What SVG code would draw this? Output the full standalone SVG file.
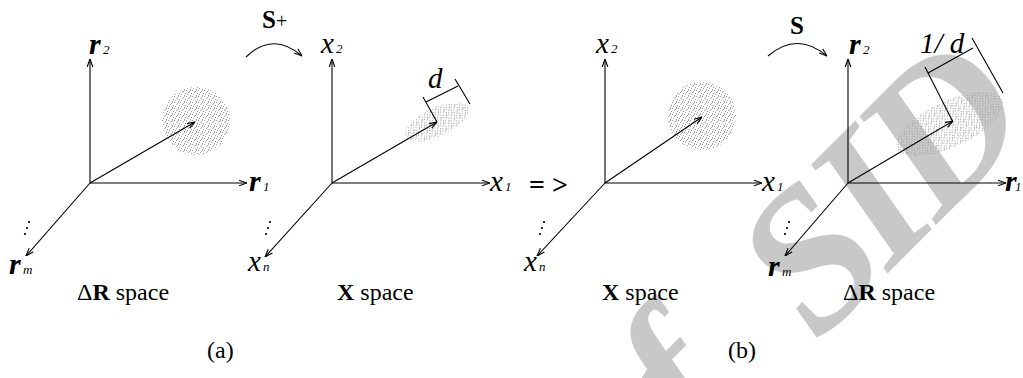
<svg xmlns="http://www.w3.org/2000/svg" width="1023" height="378" viewBox="0 0 1023 378">
<style>
text{font-family:"Liberation Serif","Times New Roman",serif}
.ax{stroke:#000;stroke-width:1.1;fill:none}
.br{stroke:#000;stroke-width:1.1;fill:none}
.lr{font-style:italic;font-weight:bold;font-size:30px;fill:#000}
.lx{font-style:italic;font-size:29px;fill:#000}
.sub{font-style:italic;font-size:13px;fill:#000}
.cap{font-size:24px;fill:#000}
.op{font-size:25px;fill:#000}
.wm{font-style:italic;font-weight:bold;font-size:200px;fill:#c8c8c8}
.dot{fill:#000}
.cloud{fill:url(#stip)}
</style>
<defs>
<marker id="ah" viewBox="0 0 10 10" refX="10" refY="5" markerWidth="8" markerHeight="8" markerUnits="userSpaceOnUse" orient="auto">
<path d="M0,1.5 L10,5 L0,8.5" fill="none" stroke="#000" stroke-width="1.4"/>
</marker>
<pattern id="stip" width="6" height="6" patternUnits="userSpaceOnUse">
<rect x="0" y="0" width="1" height="1" fill="#9a9a9a"/>
<rect x="3" y="1" width="1" height="1" fill="#a4a4a4"/>
<rect x="5" y="3" width="1" height="1" fill="#999"/>
<rect x="1" y="4" width="1" height="1" fill="#a8a8a8"/>
<rect x="4" y="5" width="1" height="1" fill="#a0a0a0"/>
<rect x="2" y="2" width="1" height="1" fill="#b4b4b4"/>
<rect x="4" y="0" width="1" height="1" fill="#b8b8b8"/>
</pattern>
</defs>

<g id="watermark" transform="translate(664 497) rotate(-45)">
<text class="wm" x="-45" y="-10" font-size="220">of</text>
<text class="wm" x="217" y="0" letter-spacing="-10">SID</text>
</g>

<g id="clouds">
<circle class="cloud" cx="196" cy="121" r="34"/>
<ellipse class="cloud" cx="437" cy="122" rx="35" ry="14" transform="rotate(-25 437 122)"/>
<circle class="cloud" cx="702" cy="116" r="34"/>
<ellipse class="cloud" cx="950" cy="124" rx="58" ry="23" transform="rotate(-25 950 124)"/>
</g>

<g id="connectors">
<line class="ax" x1="90" y1="183" x2="90" y2="59" marker-end="url(#ah)"/>
<line class="ax" x1="90" y1="183" x2="247" y2="183" marker-end="url(#ah)"/>
<line class="ax" x1="90" y1="183" x2="26" y2="256" marker-end="url(#ah)"/>
<line class="ax" x1="90" y1="183" x2="195" y2="122" marker-end="url(#ah)"/>

<line class="ax" x1="332" y1="183" x2="332" y2="59" marker-end="url(#ah)"/>
<line class="ax" x1="332" y1="183" x2="490" y2="183" marker-end="url(#ah)"/>
<line class="ax" x1="332" y1="183" x2="265" y2="257" marker-end="url(#ah)"/>
<line class="ax" x1="332" y1="183" x2="437" y2="122" marker-end="url(#ah)"/>

<line class="ax" x1="605" y1="183" x2="605" y2="59" marker-end="url(#ah)"/>
<line class="ax" x1="605" y1="183" x2="762" y2="183" marker-end="url(#ah)"/>
<line class="ax" x1="605" y1="183" x2="537" y2="256" marker-end="url(#ah)"/>
<line class="ax" x1="605" y1="183" x2="702" y2="117" marker-end="url(#ah)"/>

<line class="ax" x1="848" y1="183" x2="848" y2="59" marker-end="url(#ah)"/>
<line class="ax" x1="848" y1="183" x2="1006" y2="183" marker-end="url(#ah)"/>
<line class="ax" x1="848" y1="183" x2="785" y2="256" marker-end="url(#ah)"/>
<line class="ax" x1="848" y1="183" x2="953" y2="121" marker-end="url(#ah)"/>

<path class="ax" d="M246,57 Q273,31 302,56" marker-end="url(#ah)"/>
<path class="ax" d="M768,56 Q797,31 827,56" marker-end="url(#ah)"/>

<path class="br" d="M423,97 L437,122 M426,102 L458,86 M455,79 L470,104"/>
<path class="br" d="M925,67 L953,122 M928,73 L973,48 M972,38 L1003,93"/>
</g>

<g id="panel-a-R">
<text class="lr" x="89" y="54">r</text><text class="sub" x="103" y="54">2</text>
<text class="lr" x="249" y="191">r</text><text class="sub" x="263" y="191">1</text>
<text class="lr" x="9" y="274">r</text><text class="sub" x="23" y="274">m</text>
<circle class="dot" cx="29" cy="222" r="1.1"/><circle class="dot" cx="27" cy="228" r="1.1"/><circle class="dot" cx="25" cy="234" r="1.1"/>
<text class="cap" x="77" y="300">Δ<tspan font-weight="bold">R</tspan> space</text>
</g>

<g id="op-splus">
<text class="op" x="262" y="28"><tspan font-weight="bold">S</tspan><tspan font-size="20">+</tspan></text>
</g>

<g id="panel-a-X">
<text class="lx" x="321" y="53">x</text><text class="sub" x="336" y="53">2</text>
<text class="lx" x="490" y="191">x</text><text class="sub" x="505" y="191">1</text>
<text class="lx" x="248" y="271">x</text><text class="sub" x="263" y="271">n</text>
<circle class="dot" cx="270" cy="222" r="1.1"/><circle class="dot" cx="268" cy="228" r="1.1"/><circle class="dot" cx="266" cy="234" r="1.1"/>
<text class="lx" x="428" y="88" font-size="24">d</text>
<text class="cap" x="337" y="300"><tspan font-weight="bold">X</tspan> space</text>
</g>

<g id="implies">
<text x="529" y="194" font-family="Liberation Sans,Arial,sans-serif" font-weight="bold" font-size="28" fill="#000">= &gt;</text>
</g>

<g id="panel-b-X">
<text class="lx" x="596" y="53">x</text><text class="sub" x="611" y="53">2</text>
<text class="lx" x="762" y="191">x</text><text class="sub" x="777" y="191">1</text>
<text class="lx" x="524" y="271">x</text><text class="sub" x="539" y="271">n</text>
<circle class="dot" cx="544" cy="222" r="1.1"/><circle class="dot" cx="542" cy="228" r="1.1"/><circle class="dot" cx="540" cy="234" r="1.1"/>
<text class="cap" x="602" y="300"><tspan font-weight="bold">X</tspan> space</text>
</g>

<g id="op-s">
<text class="op" x="790" y="34" font-weight="bold">S</text>
</g>

<g id="panel-b-R">
<text class="lr" x="849" y="54">r</text><text class="sub" x="863" y="54">2</text>
<text class="lr" x="1005" y="191">r</text><text class="sub" x="1015" y="191">1</text>
<text class="lr" x="768" y="276">r</text><text class="sub" x="782" y="276">m</text>
<circle class="dot" cx="789" cy="222" r="1.1"/><circle class="dot" cx="787" cy="228" r="1.1"/><circle class="dot" cx="785" cy="234" r="1.1"/>
<text class="lx" x="920" y="53" font-size="24">1/ d</text>
<text class="cap" x="843" y="300">Δ<tspan font-weight="bold">R</tspan> space</text>
</g>

<g id="captions">
<text class="cap" x="207" y="358" font-size="20">(a)</text>
<text class="cap" x="728" y="358" font-size="20">(b)</text>
</g>
</svg>
